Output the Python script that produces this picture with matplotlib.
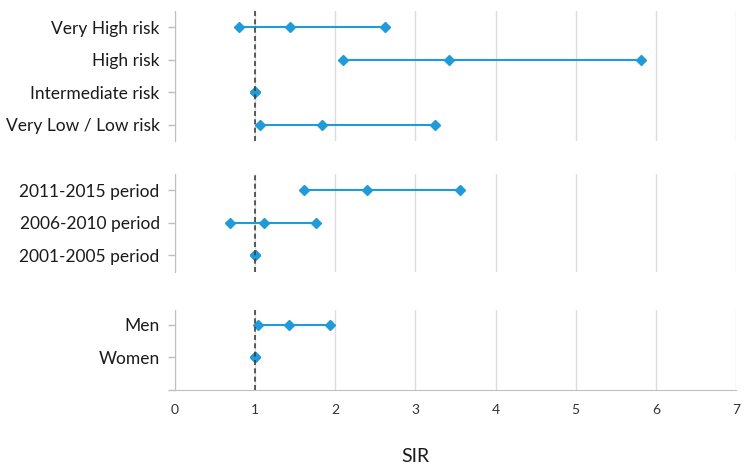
"""Forest-style SIR chart: three stacked panels (risk group, period, sex)."""

import matplotlib

matplotlib.use("Agg")
import matplotlib.pyplot as plt

# --- data -----------------------------------------------------------------
risk_labels = ["Very High risk", "High risk", "Intermediate risk", "Very Low / Low risk"]
risk_low = [0.80, 2.10, 1.00, 1.06]
risk_sir = [1.44, 3.42, 1.00, 1.84]
risk_high = [2.62, 5.82, 1.00, 3.24]

period_labels = ["2011-2015 period", "2006-2010 period", "2001-2005 period"]
period_low = [1.61, 0.69, 1.00]
period_sir = [2.39, 1.11, 1.00]
period_high = [3.55, 1.76, 1.00]

sex_labels = ["Men", "Women"]
sex_low = [1.04, 1.00]
sex_sir = [1.42, 1.00]
sex_high = [1.93, 1.00]

x_ticks = [0, 1, 2, 3, 4, 5, 6, 7]

# --- style ----------------------------------------------------------------
plt.rcParams["font.family"] = ["Lato", "DejaVu Sans"]
BLUE = "#1F9BDA"
GRID = "#DCDCDC"
AXIS = "#BFBFBF"
TEXT = "#1A1A1A"

W, H = 747, 470
fig = plt.figure(figsize=(W / 100, H / 100), dpi=100)

left = 175 / W
width = (736 - 175) / W

# (top px, bottom px, labels, low, sir, high, ylim)
panels = [
    (11, 141, risk_labels, risk_low, risk_sir, risk_high, (3.5, -0.5)),
    (174, 271.5, period_labels, period_low, period_sir, period_high, (2.5, -0.5)),
    (310, 390, sex_labels, sex_low, sex_sir, sex_high, (2.0, -0.46)),
]

for k, (top, bot, labels, lo, mid, hi, ylim) in enumerate(panels):
    ax = fig.add_axes([left, 1 - bot / H, width, (bot - top) / H])
    last = k == len(panels) - 1

    for i in range(len(labels)):
        ax.plot([lo[i], mid[i], hi[i]], [i, i, i], color=BLUE, lw=1.5,
                marker="D", ms=5.5, zorder=3, clip_on=False)

    ax.axvline(1, color="#404040", lw=1.2, ls=(0, (3, 2)), zorder=4)

    ax.set_xlim(0, 7)
    ax.set_ylim(*ylim)
    ax.set_xticks(x_ticks)
    ax.grid(axis="x", color=GRID, lw=1)
    ax.set_axisbelow(True)

    ticks = list(range(len(labels)))
    tick_labels = list(labels)
    if last:
        ticks.append(2)
        tick_labels.append("")
    ax.set_yticks(ticks)
    ax.set_yticklabels(tick_labels, fontsize=12.5, color=TEXT)
    ax.tick_params(axis="y", length=5, width=1, color=AXIS, pad=6)

    for side in ("top", "right"):
        ax.spines[side].set_visible(False)
    ax.spines["left"].set_color(AXIS)
    if last:
        ax.spines["bottom"].set_color(AXIS)
        ax.tick_params(axis="x", length=0, pad=10, labelsize=10, colors="#333333")
    else:
        ax.spines["bottom"].set_visible(False)
        ax.tick_params(axis="x", length=0, labelbottom=False)

fig.text(415 / W, 1 - 457 / H, "SIR", ha="center", va="center", fontsize=14, color=TEXT)

fig.savefig("out.png", dpi=100)
plt.close(fig)
